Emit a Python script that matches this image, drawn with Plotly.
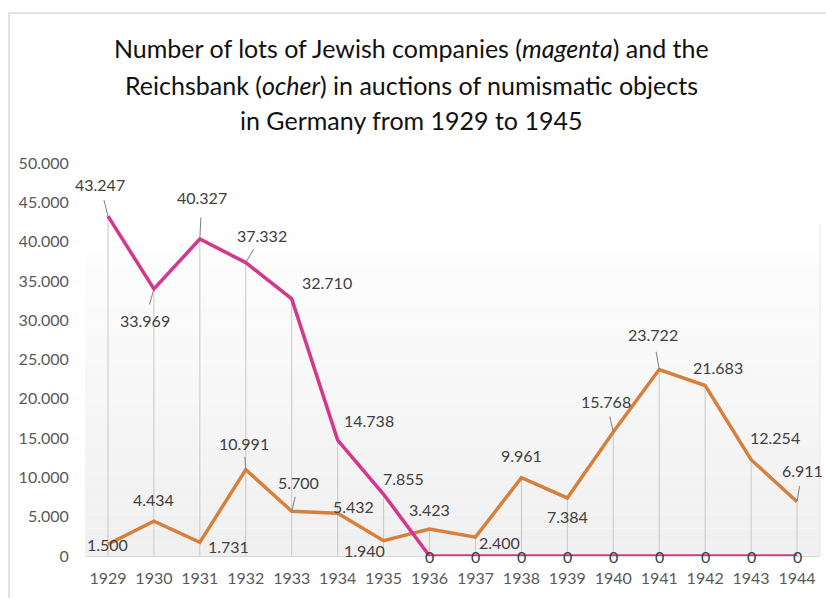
import plotly.graph_objects as go

years = [1929, 1930, 1931, 1932, 1933, 1934, 1935, 1936, 1937, 1938, 1939, 1940, 1941, 1942, 1943, 1944]
jewish = [43247, 33969, 40327, 37332, 32710, 14738, 7855, 0, 0, 0, 0, 0, 0, 0, 0, 0]
reichsbank = [1500, 4434, 1731, 10991, 5700, 5432, 1940, 3423, 2400, 9961, 7384, 15768, 23722, 21683, 12254, 6911]
y_ticks = [0, 5000, 10000, 15000, 20000, 25000, 30000, 35000, 40000, 45000, 50000]
title_lines = [
    "Number of lots of Jewish companies (<i>magenta</i>) and the",
    "Reichsbank (<i>ocher</i>) in auctions of numismatic objects",
    "in Germany from 1929 to 1945",
]

# label offsets in pixels (ax, ay), style only
jew_off = [(-8, -32, True), (-9, 31, True), (2, -42, True), (16, -27, True), (35, -16, False),
           (31, -20, False), (20, -16, False)] + [(0, 0, False)] * 9
rb_off = [(0, 0, False), (0, -22, False), (29, 4, False), (-2, -26, True), (7, -29, True),
          (16, -7, False), (-19, 10, False), (0, -20, False), (24, 5, False), (0, -22, False),
          (0, 19, False), (-7, -31, True), (-6, -35, True), (13, -18, False), (24, -22, False),
          (5, -31, True)]

MAG = "#d4378c"
OCH = "#d6803c"
FONT = "Lato"
W, H = 826, 598
L, R, T, B = 85, 6, 163, 42

fig = go.Figure()

# drop lines from highest point to the axis
dx, dy = [], []
for x, a, b in zip(years, jewish, reichsbank):
    dx += [x, x, None]
    dy += [0, max(a, b), None]
fig.add_trace(go.Scatter(x=dx, y=dy, mode="lines", line=dict(color="#c8c8c8", width=1),
                         hoverinfo="skip", showlegend=False))

fig.add_trace(go.Scatter(x=years, y=reichsbank, mode="lines", line=dict(color=OCH, width=3.5),
                         name="Reichsbank", showlegend=False))
fig.add_trace(go.Scatter(x=years, y=jewish, mode="lines", line=dict(color=MAG, width=3.5),
                         name="Jewish companies", showlegend=False))


def fmt(v):
    return f"{v:,}".replace(",", ".")


annotations = []
for series, offs in ((jewish, jew_off), (reichsbank, rb_off)):
    for x, v, (ax, ay, leader) in zip(years, series, offs):
        if leader:
            annotations.append(dict(x=x, y=v, xref="x", yref="y", text="", showarrow=True,
                                    arrowhead=0, arrowwidth=1, arrowcolor="#7f7f7f",
                                    ax=ax * 0.55, ay=ay * 0.55))
        annotations.append(dict(x=x, y=v, xref="x", yref="y", text=fmt(v), showarrow=False,
                                xshift=ax, yshift=-ay,
                                font=dict(family=FONT, size=16, color="#404040")))

plot_h = H - T - B
title_y = [48, 85, 120]
for line, py in zip(title_lines, title_y):
    annotations.append(dict(x=(W / 2 - 2 - L) / (W - L - R), y=(H - B - py) / plot_h,
                            xref="paper", yref="paper", text=line, showarrow=False,
                            xanchor="center", yanchor="middle",
                            font=dict(family=FONT, size=25, color="#111111")))

shapes = []
# frame
shapes.append(dict(type="rect", xref="paper", yref="paper", layer="below",
                   x0=(9 - L) / (W - L - R), x1=(W + 10 - L) / (W - L - R),
                   y0=(H - B - 620) / plot_h, y1=(H - B - 13) / plot_h,
                   line=dict(color="#e2e2e2", width=2), fillcolor="rgba(0,0,0,0)"))
# gradient background of plot area
n = 24
top_px = 225
for i in range(n):
    p0 = top_px + (H - B - top_px) * i / n
    p1 = top_px + (H - B - top_px) * (i + 1) / n
    g = int(255 - 15 * (i + 0.5) / n)
    shapes.append(dict(type="rect", xref="paper", yref="paper", layer="below",
                       x0=0, x1=1, y0=(H - B - p1) / plot_h, y1=(H - B - p0) / plot_h,
                       line=dict(width=0), fillcolor=f"rgb({g},{g},{g})"))
shapes.append(dict(type="line", xref="paper", yref="paper", layer="below",
                   x0=1, x1=1, y0=0, y1=(H - B - top_px) / plot_h,
                   line=dict(color="#e6e6e6", width=1)))

fig.update_layout(
    width=W, height=H,
    margin=dict(l=L, r=R, t=T, b=B),
    paper_bgcolor="white", plot_bgcolor="rgba(0,0,0,0)",
    separators=",.",
    font=dict(family=FONT, size=14, color="#595959"),
    annotations=annotations,
    shapes=shapes,
    showlegend=False,
)
fig.update_xaxes(range=[1928.5, 1944.5], tickvals=years, ticktext=[str(y) for y in years],
                 showgrid=False, zeroline=False, showline=True, linecolor="#d9d9d9", linewidth=1,
                 ticks="outside", ticklen=8, tickcolor="rgba(0,0,0,0)",
                 tickfont=dict(family=FONT, size=16, color="#595959"), fixedrange=True)
fig.update_yaxes(range=[0, 50000], tickvals=y_ticks, tickformat=",d",
                 showgrid=False, zeroline=False, showline=False,
                 ticks="outside", ticklen=12, tickcolor="rgba(0,0,0,0)",
                 tickfont=dict(family=FONT, size=16, color="#595959"), fixedrange=True)

fig.write_html("out.html")
